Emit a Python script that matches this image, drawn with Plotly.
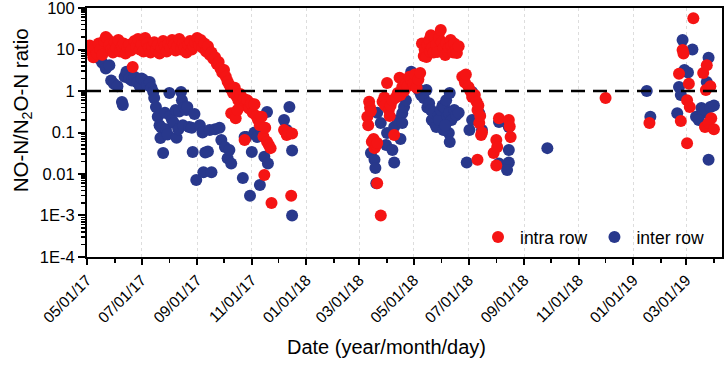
import plotly.graph_objects as go

# ---------------- data ----------------
intra_dates = [
    "2017-05-04","2017-05-06","2017-05-08","2017-05-10","2017-05-12","2017-05-14","2017-05-16","2017-05-18",
    "2017-05-20","2017-05-22","2017-05-24","2017-05-26","2017-05-28","2017-05-30","2017-06-01","2017-06-03",
    "2017-06-05","2017-06-07","2017-06-09","2017-06-11","2017-06-13","2017-06-15","2017-06-17","2017-06-19",
    "2017-06-21","2017-06-23","2017-06-25","2017-06-27","2017-06-29","2017-07-01","2017-07-03","2017-07-05",
    "2017-07-07","2017-07-09","2017-07-11","2017-07-13","2017-07-15","2017-07-17","2017-07-19","2017-07-21",
    "2017-07-23","2017-07-25","2017-07-27","2017-07-29","2017-07-31","2017-08-02","2017-08-04","2017-08-06",
    "2017-08-08","2017-08-10","2017-08-12","2017-08-14","2017-08-16","2017-08-18","2017-08-20","2017-08-22",
    "2017-08-24","2017-08-26","2017-08-28","2017-08-30","2017-09-01","2017-09-03","2017-09-05","2017-09-07",
    "2017-09-09","2017-09-11","2017-09-13","2017-09-15","2017-09-17","2017-09-19","2017-09-21","2017-09-23",
    "2017-09-25","2017-09-27","2017-09-29","2017-10-01","2017-10-03","2017-10-05","2017-10-07","2017-10-09",
    "2017-10-11","2017-10-13","2017-10-15","2017-10-17","2017-10-19","2017-10-21","2017-10-23","2017-10-25",
    "2017-10-27","2017-10-29","2017-10-31","2017-11-02","2017-11-04","2017-11-06","2017-11-08","2017-11-10",
    "2017-11-12","2017-11-14","2017-11-16","2017-11-18","2017-11-20","2017-11-22","2017-10-09","2017-10-14",
    "2017-10-16","2017-10-24","2017-11-15","2017-11-23","2017-12-07","2017-12-10","2017-12-12","2017-12-15",
    "2017-12-16",
    "2018-03-10","2018-03-11","2018-03-12","2018-03-13","2018-03-14","2018-03-15","2018-03-17","2018-03-18",
    "2018-03-20","2018-03-21","2018-03-21","2018-03-25","2018-03-27","2018-03-29","2018-03-30","2018-04-01",
    "2018-04-03","2018-04-04","2018-04-05","2018-04-07","2018-04-09","2018-04-11","2018-04-13","2018-04-15",
    "2018-04-16","2018-04-18","2018-04-20","2018-04-22","2018-04-24","2018-04-26","2018-04-28","2018-04-30",
    "2018-05-02","2018-05-04","2018-05-06","2018-05-08","2018-05-10","2018-05-12","2018-05-13","2018-05-15",
    "2018-05-16","2018-05-18","2018-05-19","2018-05-20","2018-05-21","2018-05-23","2018-05-24","2018-05-26",
    "2018-05-27","2018-05-29","2018-05-31","2018-06-01","2018-06-03","2018-06-05","2018-06-06","2018-06-08",
    "2018-06-09","2018-06-11","2018-06-12","2018-06-14","2018-06-15","2018-06-17","2018-06-18","2018-06-20",
    "2018-06-24","2018-06-27","2018-06-28","2018-07-01","2018-07-03","2018-07-05","2018-07-08","2018-07-10",
    "2018-07-11","2018-07-12","2018-07-13","2018-07-14","2018-07-15","2018-07-16","2018-07-11","2018-07-29",
    "2018-08-01","2018-08-02","2018-08-01","2018-08-04","2018-08-15","2018-08-17","2018-08-16","2018-12-01",
    "2019-01-19","2019-02-23","2019-02-25","2019-02-26","2019-02-21","2019-03-02","2019-03-04","2019-03-05",
    "2019-03-02","2019-03-09","2019-03-20","2019-03-24","2019-03-23","2019-03-28","2019-03-29","2019-03-22",
    "2019-03-26","2019-04-01",
]
intra_ratio = [
    12.5, 9, 6.5, 11, 8, 14, 10, 7.5,
    16, 20, 18, 13, 10, 8.5, 15, 11,
    17, 9, 12, 14, 8, 11, 13, 9.5,
    3.8, 16, 12, 18, 10, 13, 9, 19,
    14, 11, 8.5, 12, 15, 10, 13, 8,
    11, 16, 12, 9, 14, 11, 17, 13,
    9.5, 12, 18, 10, 14, 11, 8.5, 13,
    16, 10, 12, 15, 19, 13, 17, 11,
    14, 9, 12, 7.5, 8.5, 6, 6.5, 4.5,
    5, 3.5, 2.8, 3.2, 2.2, 1.7, 1.4, 1.1,
    0.9, 1.2, 0.75, 0.6, 0.85, 0.5, 0.65, 0.45,
    0.6, 0.38, 0.5, 0.3, 0.48, 0.25, 0.2, 0.15,
    0.24, 0.08, 0.13, 0.06, 0.05, 0.042, 0.29, 0.22,
    0.35, 0.066, 0.0094, 0.002, 0.115, 0.087, 0.1, 0.003,
    0.095,
    0.24, 0.15, 0.55, 0.4, 0.33, 0.06, 0.07, 0.042,
    0.05, 0.056, 0.006, 0.001, 0.55, 0.7, 0.45, 1.56,
    0.35, 0.25, 0.45, 0.6, 0.087, 0.7, 0.9, 2.1,
    0.8, 1.25, 1.0, 1.5, 1.3, 2.2, 1.8, 1.5,
    2.5, 1.2, 1.9, 2.7, 14, 7, 10, 6.6,
    12.8, 17, 9, 22, 11, 8.5, 20, 13,
    8.7, 19, 29.5, 15, 11, 7.4, 14, 9,
    11, 17, 12, 8.5, 14, 10, 8.2, 12,
    2.2, 1.6, 2.5, 1.25, 1.0, 0.72, 0.8, 0.55,
    0.35, 0.45, 0.17, 0.25, 0.087, 0.1, 0.022, 0.032,
    0.066, 0.045, 0.016, 0.22, 0.2, 0.078, 0.14, 0.68,
    0.17, 0.19, 9.7, 8, 2.6, 0.6, 1.5, 0.41,
    0.055, 57, 2.7, 4.2, 1.06, 1.3, 0.22, 0.135,
    0.17, 0.12,
]

inter_dates = [
    "2017-05-05","2017-05-07","2017-05-09","2017-05-12","2017-05-15","2017-05-18","2017-05-22","2017-05-26",
    "2017-05-28","2017-05-31","2017-06-04","2017-06-09","2017-06-10","2017-06-12","2017-06-14","2017-06-17",
    "2017-06-20","2017-06-23","2017-06-26","2017-06-29","2017-07-01","2017-07-04","2017-07-07","2017-07-10",
    "2017-07-12","2017-07-14","2017-07-15","2017-07-17","2017-07-19","2017-07-21","2017-07-23","2017-07-22",
    "2017-07-25","2017-07-27","2017-07-28","2017-07-30","2017-08-01","2017-08-02","2017-08-04","2017-08-06",
    "2017-08-08","2017-08-09","2017-08-11","2017-08-12","2017-08-14","2017-08-15","2017-08-16","2017-08-18",
    "2017-08-20","2017-08-21","2017-08-23","2017-08-26","2017-08-27","2017-08-29","2017-08-31","2017-09-04",
    "2017-09-07","2017-09-08","2017-09-10","2017-09-13","2017-09-15","2017-09-17","2017-09-21","2017-09-26",
    "2017-09-28","2017-10-02","2017-10-05","2017-10-07","2017-10-09","2017-10-22","2017-10-24","2017-10-26",
    "2017-10-30","2017-11-01","2017-11-04","2017-11-07","2017-11-10","2017-11-12","2017-11-15","2017-11-18",
    "2017-11-19","2017-12-07","2017-12-10","2017-12-13","2017-12-16","2017-12-16",
    "2018-03-14","2018-03-18","2018-03-19","2018-03-20","2018-03-21","2018-03-25","2018-03-31","2018-04-01",
    "2018-04-07","2018-04-09","2018-04-09","2018-04-13","2018-04-16","2018-04-18","2018-04-18","2018-04-20",
    "2018-04-22","2018-04-28","2018-05-05","2018-05-07","2018-05-09","2018-05-12","2018-05-15","2018-05-16",
    "2018-05-18","2018-05-20","2018-05-21","2018-05-23","2018-05-24","2018-05-26","2018-05-28","2018-05-29",
    "2018-05-31","2018-06-02","2018-06-04","2018-06-06","2018-06-07","2018-06-09","2018-06-09","2018-06-10",
    "2018-06-10","2018-06-12","2018-06-15","2018-06-17","2018-06-20","2018-06-03","2018-06-05","2018-06-29",
    "2018-07-02","2018-07-05","2018-07-05","2018-07-13","2018-07-16","2018-08-04","2018-08-04","2018-08-15",
    "2018-08-15","2018-08-15","2018-08-13","2018-09-27",
    "2019-01-16","2019-01-20","2019-02-25","2019-03-08","2019-02-27","2019-03-03","2019-02-21","2019-02-23",
    "2019-02-19","2019-03-12","2019-03-18","2019-03-20","2019-03-22","2019-03-28","2019-04-01","2019-03-26",
    "2019-03-24","2019-03-26","2019-03-15",
]
inter_ratio = [
    10, 11, 9, 8.7, 6, 4.8, 3.5, 4.2,
    1.8, 1.5, 1.3, 0.54, 0.46, 2.2, 2.9, 2.0,
    1.8, 2.2, 1.6, 1.3, 2.0, 1.8, 1.4, 1.65,
    1.2, 0.95, 0.68, 0.41, 0.24, 0.15, 0.13, 0.074,
    0.032, 0.3, 0.12, 0.09, 0.9, 0.25, 0.2, 0.17,
    0.35, 0.075, 0.12, 0.32, 0.95, 0.6, 0.15, 0.4,
    0.35, 0.41, 0.135, 0.13, 0.034, 0.28, 0.0072, 0.15,
    0.1, 0.011, 0.033, 0.035, 0.115, 0.011, 0.12, 0.13,
    0.066, 0.045, 0.024, 0.038, 0.018, 0.008, 0.078, 0.078,
    0.003, 0.034, 0.1, 0.078, 0.0054, 0.115, 0.026, 0.31,
    0.018, 0.2, 0.115, 0.41, 0.037, 0.001,
    0.032, 0.022, 0.014, 0.006, 0.3, 0.17, 0.05, 0.097,
    0.038, 0.135, 0.019, 0.2, 0.07, 0.29, 0.17, 0.41,
    0.6, 2.9, 1.18, 1.0, 0.8, 0.68, 1.06, 0.4,
    0.51, 0.35, 0.2, 0.3, 0.17, 0.135, 0.25, 0.2,
    0.35, 0.45, 0.4, 0.6, 0.25, 0.29, 0.097, 0.059,
    0.9, 0.2, 0.35, 0.26, 0.3, 0.115, 0.15, 0.019,
    0.115, 0.2, 0.95, 0.29, 0.115, 0.18, 0.018, 0.135,
    0.038, 0.019, 0.0125, 0.042,
    1.0, 0.24, 17, 10, 3.2, 2.8, 1.25, 0.8,
    0.29, 0.24, 0.39, 0.3, 0.35, 0.41, 0.45, 6.3,
    1.65, 0.022, 0.2,
]

y_tickvals = [1e-4, 1e-3, 1e-2, 1e-1, 1, 10, 100]
y_ticktext = ["1E-4", "1E-3", "0.01", "0.1", "1", "10", "100"]
y_minor = [m * 10.0 ** e for e in range(-4, 2) for m in range(2, 10)]
y_log_range = [-4.0005, 2.0005]
ref_ratio_log = 0.0  # dashed reference line at ratio = 1

RED = "#f51414"
BLUE = "#28388c"
FONT = "Arial, Liberation Sans, sans-serif"

fig = go.Figure()
fig.add_trace(go.Scatter(
    x=inter_dates, y=inter_ratio, mode="markers", name="inter row", legendrank=2,
    marker=dict(color=BLUE, size=12, line=dict(width=0)),
))
fig.add_trace(go.Scatter(
    x=intra_dates, y=intra_ratio, mode="markers", name="intra row", legendrank=1,
    marker=dict(color=RED, size=12, line=dict(width=0)),
))

ref_frac = (ref_ratio_log - y_log_range[0]) / (y_log_range[1] - y_log_range[0])
fig.add_shape(type="line", xref="paper", x0=0, x1=1, yref="y domain", y0=ref_frac, y1=ref_frac,
              line=dict(color="black", width=2.5, dash="14px,8px"), layer="above")

fig.update_layout(
    width=726, height=365,
    margin=dict(l=87, r=4, t=8, b=108, autoexpand=False),
    paper_bgcolor="white", plot_bgcolor="white",
    font=dict(family=FONT, size=15.5, color="black"),
    showlegend=True, hovermode=False,
    legend=dict(orientation="h", x=0.6126, xanchor="left", y=0.008, yanchor="bottom",
                bgcolor="rgba(0,0,0,0)", font=dict(size=17.5), itemsizing="constant",
                itemwidth=34, traceorder="normal"),
    xaxis=dict(
        type="date", range=["2017-05-01", "2019-04-10"],
        tick0="2017-05-01", dtick="M2", tickformat="%m/%d/%y", tickangle=-45,
        ticks="outside", ticklen=6, tickwidth=2, tickcolor="black",
        showline=True, linecolor="black", linewidth=2, mirror=True,
        showgrid=True, gridcolor="#dddddd", griddash="dot", gridwidth=1,
        minor=dict(dtick="M1", ticks="outside", ticklen=4, tickwidth=1.5, tickcolor="black", showgrid=False),
        zeroline=False, ticklabeloverflow="allow",
    ),
    yaxis=dict(
        type="log", range=y_log_range,
        tickmode="array", tickvals=y_tickvals, ticktext=y_ticktext,
        ticks="outside", ticklen=7, tickwidth=2, tickcolor="black",
        showline=True, linecolor="black", linewidth=2, mirror=True,
        showgrid=False, zeroline=False, ticklabeloverflow="allow",
        tickfont=dict(size=16.5),
        minor=dict(tickmode="array", tickvals=y_minor, ticks="outside", ticklen=4,
                   tickwidth=1.5, tickcolor="black", showgrid=False),
    ),
    annotations=[
        dict(text="NO-N/N<sub>2</sub>O-N ratio", xref="paper", yref="paper",
             x=-0.102, y=0.59, xanchor="center", yanchor="middle", textangle=-90,
             showarrow=False, font=dict(size=20.5)),
        dict(text="Date (year/month/day)", xref="paper", yref="paper",
             x=0.472, y=-0.361, xanchor="center", yanchor="middle",
             showarrow=False, font=dict(size=20)),
    ],
)

fig.write_html("out.html", config={"displayModeBar": False, "staticPlot": True},
               post_script="document.body.style.margin='0';document.body.style.padding='0';")
